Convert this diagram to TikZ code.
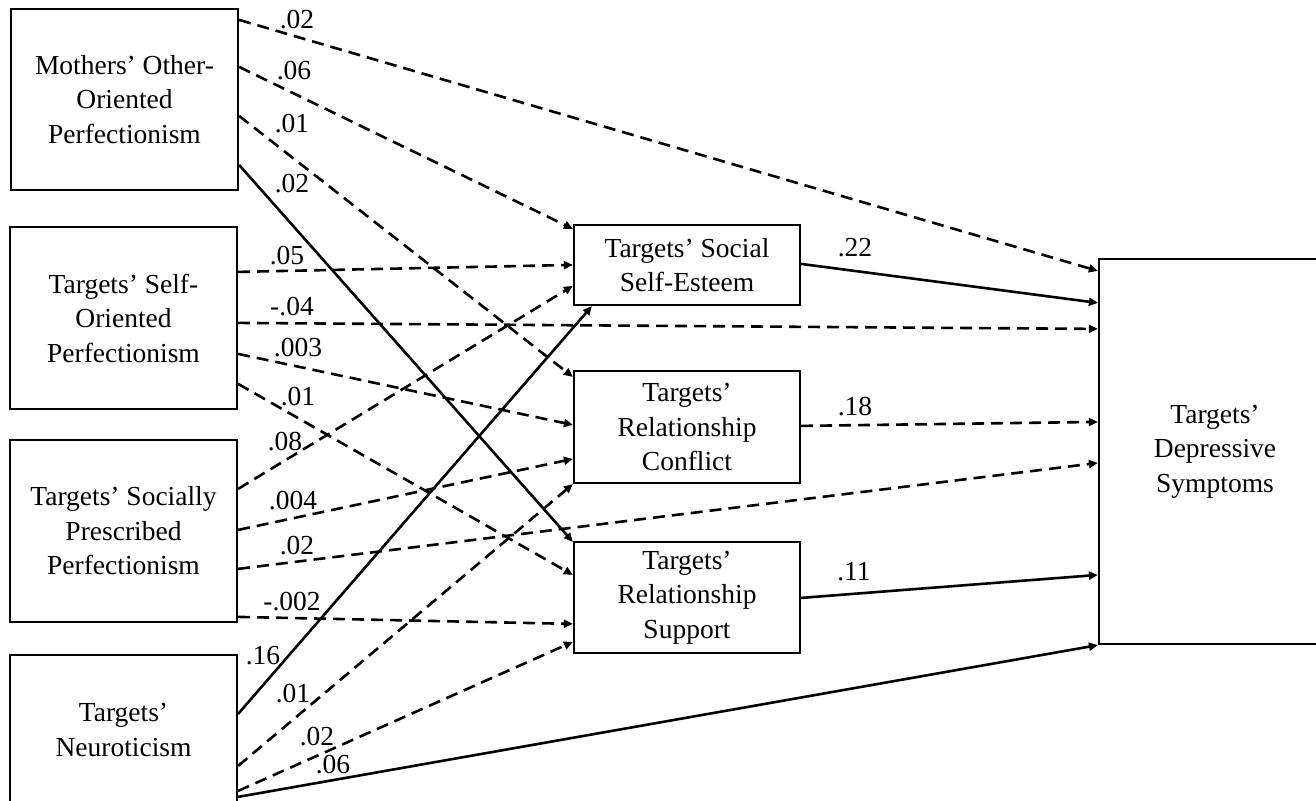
\documentclass[tikz,border=0pt]{standalone}
\usepackage{fontspec}
\setmainfont{Liberation Serif}
\usetikzlibrary{arrows.meta}
\tikzset{
  x=1pt, y=-1pt,
  varbox/.style={draw, line width=2.2pt, inner sep=0pt, align=center,
    font=\fontsize{27.5}{34.5}\selectfont},
  coef/.style={inner sep=0pt, font=\fontsize{27.5}{30}\selectfont},
  pathline/.style={line width=2.6pt, -{Triangle[length=9pt,width=8pt]}},
  dashline/.style={pathline, dash pattern=on 12pt off 7pt},
  solidline/.style={pathline}
}
\begin{document}
\begin{tikzpicture}
\useasboundingbox (0,0) rectangle (1316,800);
\clip (0,0) rectangle (1316,800);

% exogenous variables
\node[varbox, minimum width=227pt, minimum height=181pt] (M) at (124.5,99.5)
  {Mothers' Other-\\Oriented\\Perfectionism};
\node[varbox, minimum width=227pt, minimum height=182pt] (S) at (123.5,318)
  {Targets' Self-\\Oriented\\Perfectionism};
\node[varbox, minimum width=227pt, minimum height=182pt] (P) at (123.5,531)
  {Targets' Socially\\Prescribed\\Perfectionism};
\node[varbox, minimum width=227pt, minimum height=150pt] (N) at (123.5,730)
  {Targets'\\Neuroticism};

% mediators
\node[varbox, minimum width=226pt, minimum height=80pt] (SE) at (687,265)
  {Targets' Social\\Self-Esteem};
\node[varbox, minimum width=226pt, minimum height=112pt] (RC) at (687,427)
  {Targets'\\Relationship\\Conflict};
\node[varbox, minimum width=226pt, minimum height=111pt] (RS) at (687,597.5)
  {Targets'\\Relationship\\Support};

% outcome
\node[varbox, minimum width=232pt, minimum height=385pt] (D) at (1215,451.5)
  {Targets'\\Depressive\\Symptoms};

% paths from mothers' other-oriented perfectionism
\draw[dashline]  ([yshift=-12pt]M.north east)  -- ([yshift=-13pt]D.north west);
\draw[dashline]  ([yshift=-59pt]M.north east)  -- ([yshift=-5pt]SE.north west);
\draw[dashline]  ([yshift=-108pt]M.north east) -- ([yshift=-7pt]RC.north west);
\draw[solidline] ([yshift=-157pt]M.north east) -- ([yshift=-1pt]RS.north west);

% paths from self-oriented perfectionism
\draw[dashline] ([yshift=-46pt]S.north east)  -- ([yshift=-41pt]SE.north west);
\draw[dashline] ([yshift=-97pt]S.north east)  -- ([yshift=-71pt]D.north west);
\draw[dashline] ([yshift=-128pt]S.north east) -- ([yshift=-55pt]RC.north west);
\draw[dashline] ([yshift=-158pt]S.north east) -- ([yshift=-34pt]RS.north west);

% paths from socially prescribed perfectionism
\draw[dashline] ([yshift=-50pt]P.north east)  -- ([yshift=-62pt]SE.north west);
\draw[dashline] ([yshift=-91pt]P.north east)  -- ([yshift=-89pt]RC.north west);
\draw[dashline] ([yshift=-130pt]P.north east) -- ([yshift=-205pt]D.north west);
\draw[dashline] ([yshift=-178pt]P.north east) -- ([yshift=-83pt]RS.north west);

% paths from neuroticism
\draw[solidline] ([yshift=-60pt]N.north east)  -- ([xshift=19pt]SE.south west);
\draw[dashline]  ([yshift=-112pt]N.north east) -- (RC.south west);
\draw[dashline]  ([yshift=-137pt]N.north east) -- ([yshift=-101pt]RS.north west);
\draw[solidline] ([yshift=-143pt]N.north east) -- (D.south west);

% paths from mediators to the outcome
\draw[solidline] ([yshift=-40pt]SE.north east) -- ([yshift=-45pt]D.north west);
\draw[dashline]  ([yshift=-56pt]RC.north east) -- ([yshift=-164pt]D.north west);
\draw[solidline] ([yshift=-57pt]RS.north east) -- ([yshift=-317pt]D.north west);

% path coefficients
\node[coef] (c1)  at (297,20)  {.02};
\node[coef] (c2)  at (294,71)  {.06};
\node[coef] (c3)  at (292,124) {.01};
\node[coef] (c4)  at (292,184) {.02};
\node[coef] (c5)  at (287,256) {.05};
\node[coef] (c6)  at (292,307) {-.04};
\node[coef] (c7)  at (298,348) {.003};
\node[coef] (c8)  at (298,397) {.01};
\node[coef] (c9)  at (285,442) {.08};
\node[coef] (c10) at (293,501) {.004};
\node[coef] (c11) at (297,546) {.02};
\node[coef] (c12) at (292,602) {-.002};
\node[coef] (c13) at (263,656) {.16};
\node[coef] (c14) at (293,694) {.01};
\node[coef] (c15) at (317,737) {.02};
\node[coef] (c16) at (333,765) {.06};
\node[coef] (c17) at (855,248) {.22};
\node[coef] (c18) at (855,407) {.18};
\node[coef] (c19) at (854,572) {.11};
\end{tikzpicture}
\end{document}
